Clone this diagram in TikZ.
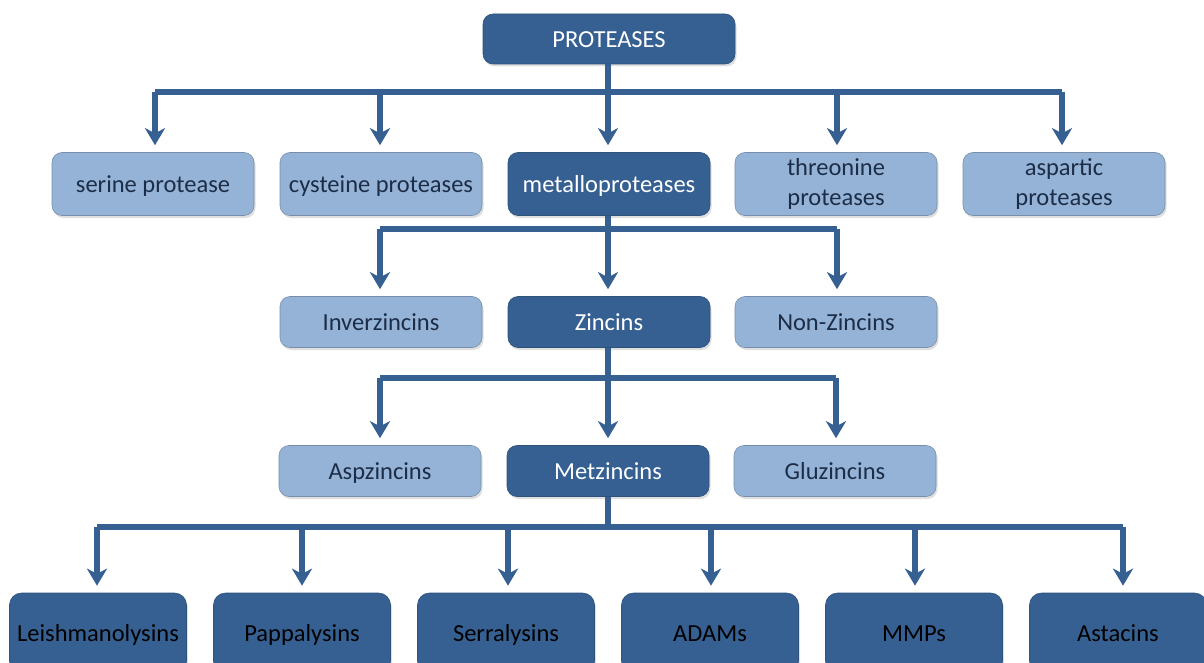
\documentclass[tikz,border=0pt]{standalone}
\usepackage{fontspec}
\setmainfont{Carlito}
\usetikzlibrary{arrows.meta,shadows,calc}
\definecolor{dk}{RGB}{54,96,146}
\definecolor{lt}{RGB}{149,179,215}
\definecolor{ltxt}{RGB}{28,45,72}
\tikzset{
  box/.style={rounded corners=10pt, minimum width=202pt, minimum height=52pt, inner sep=2pt, align=center,
     text height=19pt, text depth=2pt,
     font=\fontsize{24.5}{30}\selectfont, drop shadow={opacity=0.25, shadow xshift=1.5pt, shadow yshift=-2.5pt}},
  twoline/.style={text height=, text depth=},
  dkbox/.style={box, fill=dk, draw=dk!85!black, line width=0.6pt, text=white},
  ltbox/.style={box, fill=lt, draw=lt!80!black, line width=0.6pt, text=ltxt},
  bbox/.style={box, fill=dk, draw=dk!85!black, line width=0.6pt, text=black, minimum width=177pt, minimum height=80pt, rounded corners=12pt},
  conn/.style={draw=dk, line width=5.5pt},
  arr/.style={conn, -{Stealth[width=20pt,length=17pt,inset=5pt]}, shorten >=7pt},
}
\begin{document}
\begin{tikzpicture}[x=1pt,y=-1pt]
\useasboundingbox (0,0) rectangle (1204,663);
\clip (0,0) rectangle (1204,663);
% top
\node[dkbox, minimum width=252pt, minimum height=50pt] (prot) at (609,39) {PROTEASES};
% row 1
\node[ltbox, minimum height=63pt] (ser) at (153,184) {serine protease};
\node[ltbox, minimum height=63pt] (cys) at (381,184) {cysteine proteases};
\node[dkbox, minimum height=63pt] (met) at (609,184) {metalloproteases};
\node[ltbox, twoline, minimum height=63pt] (thr) at (836,184) {threonine\\proteases};
\node[ltbox, twoline, minimum height=63pt] (asp) at (1064,184) {aspartic\\proteases};
% row 2
\node[ltbox, minimum height=51pt] (inv) at (381,322) {Inverzincins};
\node[dkbox, minimum height=51pt] (zin) at (609,322) {Zincins};
\node[ltbox, minimum height=51pt] (non) at (836,322) {Non-Zincins};
% row 3
\node[ltbox, minimum height=51pt] (asz) at (380,471) {Aspzincins};
\node[dkbox, minimum height=51pt] (mtz) at (608,471) {Metzincins};
\node[ltbox, minimum height=51pt] (glu) at (835,471) {Gluzincins};
% row 4
\node[bbox] (lei) at (98,633) {Leishmanolysins};
\node[bbox] (pap) at (302,633) {Pappalysins};
\node[bbox] (ser2) at (506,633) {Serralysins};
\node[bbox] (ada) at (710,633) {ADAMs};
\node[bbox] (mmp) at (914,633) {MMPs};
\node[bbox] (ast) at (1118,633) {Astacins};
% level 1 connectors
\draw[conn] (prot.south -| 608,0) -- (608,92);
\draw[conn] (155,92) -- (1062,92);
\draw[arr] (155,92) -- (ser.north -| 155,0);
\draw[arr] (380,92) -- (cys.north -| 380,0);
\draw[arr] (608,92) -- (met.north -| 608,0);
\draw[arr] (837,92) -- (thr.north -| 837,0);
\draw[arr] (1062,92) -- (asp.north -| 1062,0);
% level 2
\draw[conn] (met.south -| 608,0) -- (608,229);
\draw[conn] (380,229) -- (837,229);
\draw[arr] (380,229) -- (inv.north -| 380,0);
\draw[arr] (608,229) -- (zin.north -| 608,0);
\draw[arr] (837,229) -- (non.north -| 837,0);
% level 3
\draw[conn] (zin.south -| 608,0) -- (608,378);
\draw[conn] (380,378) -- (836,378);
\draw[arr] (380,378) -- (asz.north -| 380,0);
\draw[arr] (608,378) -- (mtz.north -| 608,0);
\draw[arr] (836,378) -- (glu.north -| 836,0);
% level 4
\draw[conn] (mtz.south -| 608,0) -- (608,527);
\draw[conn] (97,527) -- (1123,527);
\draw[arr] (97,527) -- (lei.north -| 97,0);
\draw[arr] (302,527) -- (pap.north -| 302,0);
\draw[arr] (508,527) -- (ser2.north -| 508,0);
\draw[arr] (711,527) -- (ada.north -| 711,0);
\draw[arr] (915,527) -- (mmp.north -| 915,0);
\draw[arr] (1123,527) -- (ast.north -| 1123,0);
\end{tikzpicture}
\end{document}
